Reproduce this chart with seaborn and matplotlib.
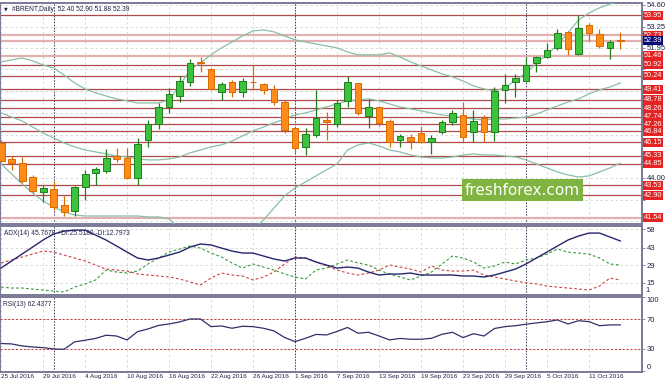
import numpy as np
import pandas as pd
import matplotlib.pyplot as plt
import matplotlib.transforms as mtransforms
from matplotlib.patches import Rectangle
import seaborn as sns

# daily bars, 25 Jul 2016 .. 14 Oct 2016 (60 trading days)
opens = [46.12, 45.12, 44.88, 44.02, 43.13, 43.28, 42.32, 41.95, 43.44, 44.26,
         44.40, 45.32, 45.18, 43.96, 46.30, 47.29, 48.31, 49.00, 49.84, 51.06,
         50.66, 49.27, 49.88, 49.23, 49.88, 49.72, 49.41, 48.62, 47.02, 45.86,
         46.61, 47.53, 47.29, 48.71, 49.78, 47.78, 48.35, 47.47, 46.30, 46.51,
         46.72, 46.20, 46.81, 47.43, 47.84, 46.81, 47.63, 46.81, 49.37, 49.88,
         49.92, 51.01, 51.37, 51.93, 52.94, 51.58, 53.36, 52.79, 51.96, 52.40]
highs = [46.30, 45.32, 45.24, 44.16, 43.55, 43.81, 42.87, 43.50, 44.46, 44.67,
         45.77, 45.80, 45.80, 46.41, 47.53, 48.55, 49.47, 50.23, 51.25, 51.41,
         50.72, 49.88, 49.98, 50.09, 50.90, 49.78, 49.70, 48.76, 47.12, 47.02,
         49.37, 48.04, 48.76, 50.23, 49.82, 48.80, 48.39, 47.57, 46.67, 46.67,
         47.18, 46.61, 47.53, 48.14, 48.65, 48.14, 47.84, 49.54, 50.35, 50.35,
         51.37, 51.45, 52.23, 53.09, 53.01, 53.97, 53.50, 53.11, 52.44, 52.90]
lows = [44.95, 44.47, 43.69, 43.04, 42.52, 42.01, 41.64, 41.64, 42.63, 43.55,
        44.26, 44.97, 43.93, 43.55, 45.89, 46.96, 47.98, 48.65, 49.62, 50.49,
        49.37, 48.76, 48.96, 48.96, 49.37, 49.12, 48.45, 46.75, 45.49, 45.38,
        46.51, 46.30, 47.12, 48.35, 47.84, 47.02, 47.18, 45.89, 45.86, 45.73,
        46.12, 45.43, 46.67, 47.22, 46.20, 46.20, 46.20, 46.26, 48.55, 48.96,
        49.88, 50.46, 51.31, 51.82, 51.52, 51.52, 52.39, 51.93, 51.25, 51.88]
closes = [45.02, 44.88, 43.79, 43.18, 43.34, 42.22, 41.91, 43.44, 44.22, 44.51,
          45.22, 45.12, 43.96, 46.06, 47.29, 48.35, 49.12, 49.92, 51.01, 51.03,
          49.41, 49.72, 49.27, 49.94, 49.85, 49.37, 48.65, 46.92, 45.80, 46.67,
          47.63, 47.39, 48.59, 49.84, 47.98, 48.35, 47.37, 46.20, 46.55, 46.26,
          46.16, 46.45, 47.43, 47.98, 46.47, 47.49, 46.81, 49.33, 49.68, 50.12,
          50.90, 51.37, 51.82, 52.88, 51.87, 53.15, 52.85, 52.07, 52.29, 52.39]

# bollinger bands
bb_upper = [51.09, 51.21, 51.33, 51.15, 50.90, 50.72, 50.29, 49.80, 49.43, 49.19,
            49.00, 48.82, 48.70, 48.57, 48.57, 48.57, 48.76, 49.62, 50.60, 51.03,
            51.52, 51.95, 52.31, 52.68, 52.99, 53.05, 52.93, 52.68, 52.44, 52.31,
            52.19, 52.07, 51.95, 51.70, 51.52, 51.52, 51.52, 51.64, 51.39, 51.09,
            50.84, 50.60, 50.35, 50.17, 49.92, 49.62, 49.43, 49.31, 49.49, 49.98,
            50.41, 51.03, 51.52, 52.13, 52.86, 53.66, 54.09, 54.40, 54.64, 54.83]
bb_mid = [47.96, 47.71, 47.47, 47.10, 46.73, 46.43, 46.12, 45.88, 45.69, 45.57,
          45.45, 45.32, 45.26, 45.14, 45.08, 45.08, 45.14, 45.26, 45.51, 45.69,
          45.88, 46.00, 46.24, 46.55, 46.86, 47.10, 47.35, 47.59, 47.84, 47.96,
          48.14, 48.33, 48.51, 48.70, 48.76, 48.82, 48.70, 48.51, 48.33, 48.21,
          48.08, 47.96, 47.84, 47.78, 47.65, 47.59, 47.53, 47.59, 47.59, 47.65,
          47.71, 47.90, 48.14, 48.39, 48.63, 48.82, 49.13, 49.37, 49.55, 49.80]
bb_lower = [44.83, 44.22, 43.61, 43.05, 42.56, 42.20, 41.89, 41.71, 41.64, 41.64,
            41.64, 41.64, 41.64, 41.64, 41.58, 41.58, 41.46, 40.91, 40.42, 40.36,
            40.23, 40.05, 40.17, 40.42, 40.79, 41.40, 42.13, 42.87, 43.36, 43.73,
            44.10, 44.47, 44.83, 45.69, 46.00, 46.12, 45.94, 45.69, 45.57, 45.38,
            45.26, 45.20, 45.20, 45.26, 45.38, 45.45, 45.38, 45.38, 45.32, 45.26,
            45.08, 44.83, 44.59, 44.34, 44.16, 44.03, 44.10, 44.34, 44.59, 44.89]

adx = [26.8, 32.5, 38.1, 43.7, 49.4, 54.2, 56.6, 57.4, 57.4, 53.4,
       49.4, 44.6, 39.7, 34.9, 33.3, 34.9, 37.3, 39.7, 43.7, 46.2,
       45.4, 42.9, 40.5, 38.9, 38.9, 36.5, 34.1, 32.5, 34.9, 34.9,
       31.7, 29.2, 26.8, 27.6, 26.8, 23.6, 21.2, 22.0, 22.0, 22.8,
       21.2, 21.2, 21.2, 21.2, 20.4, 20.4, 19.6, 21.2, 23.6, 26.0,
       30.1, 34.9, 39.7, 44.6, 49.4, 52.6, 55.0, 55.0, 51.8, 48.6]
plus_di = [11.5, 10.7, 10.7, 9.9, 9.1, 8.3, 7.5, 11.5, 14.0, 17.2,
           25.2, 23.6, 22.8, 24.4, 30.1, 34.9, 39.7, 42.1, 44.6, 42.9,
           38.9, 35.7, 30.9, 26.8, 30.1, 27.6, 25.2, 22.0, 19.6, 18.0,
           25.2, 26.8, 30.1, 33.3, 30.9, 29.2, 25.2, 22.0, 19.6, 17.2,
           20.4, 23.6, 30.1, 36.5, 34.9, 31.7, 26.8, 28.5, 31.7, 30.1,
           33.3, 34.9, 38.1, 42.1, 39.7, 38.9, 38.1, 34.9, 30.1, 29.2]
minus_di = [30.9, 33.3, 35.7, 38.1, 40.5, 39.7, 37.3, 34.9, 32.5, 29.3,
            26.0, 25.2, 24.4, 22.0, 21.2, 20.4, 19.6, 18.0, 15.6, 13.2,
            18.8, 22.8, 21.2, 20.4, 17.2, 19.6, 23.6, 30.1, 35.7, 34.9,
            31.7, 28.5, 25.2, 22.8, 21.2, 22.8, 25.2, 29.3, 27.6, 26.0,
            23.6, 28.5, 25.2, 24.4, 24.4, 25.2, 21.2, 19.6, 18.0, 16.4,
            14.8, 14.0, 12.3, 11.5, 10.7, 9.9, 9.1, 12.3, 18.8, 17.2]
rsi = [37.4, 36.8, 34.1, 32.7, 31.8, 30.0, 29.6, 39.5, 41.8, 44.2,
       48.5, 47.5, 42.2, 53.3, 57.0, 61.7, 63.7, 66.4, 70.4, 70.4,
       60.1, 61.0, 57.9, 60.6, 60.1, 57.9, 54.3, 45.5, 39.9, 44.4,
       49.6, 48.9, 53.6, 59.0, 51.2, 52.5, 47.5, 42.2, 44.2, 43.1,
       43.1, 44.4, 49.8, 52.5, 45.3, 50.6, 47.5, 57.6, 60.1, 61.3,
       63.4, 65.1, 66.7, 69.1, 63.7, 68.1, 66.8, 61.4, 62.4, 62.44]

date_labels = ["25 Jul 2016", "29 Jul 2016", "4 Aug 2016", "10 Aug 2016", "16 Aug 2016",
               "22 Aug 2016", "26 Aug 2016", "1 Sep 2016", "7 Sep 2016", "13 Sep 2016",
               "19 Sep 2016", "23 Sep 2016", "29 Sep 2016", "5 Oct 2016", "11 Oct 2016"]
month_starts = [5, 28, 50]  # bar index of 1 Aug, 1 Sep, 3 Oct

levels_dark = [53.95, 50.92, 50.24, 49.41, 48.78, 48.26, 47.74, 47.26, 46.84,
               46.15, 45.33, 44.85, 43.53, 42.90]
levels_pale = [52.73, 51.46, 41.54]
last_price = 52.39
price_ticks = [54.60, 53.25, 51.95, 50.65, 49.30, 47.98, 46.63, 45.30, 44.00, 42.65, 41.34]
shown_ticks = [54.60, 53.25, 51.95, 44.00]  # the rest sit under the level boxes

GREEN, GREEN_E = "#3cc23c", "#1f7d1f"
ORANGE, ORANGE_E = "#ff8c1a", "#d96c00"
BAND = "#88bfa5"
NAVY = "#26266e"
GRID = "#d4d4d4"
FRAME = "#7a7a98"
TXT = "#22224a"

sns.set_style("white")
plt.rcParams['font.family'] = ['Liberation Sans', 'DejaVu Sans']

W, H = 670, 381
fig = plt.figure(figsize=(W / 100, H / 100), dpi=100)

def panel(top, bottom):
    return fig.add_axes([0, 1 - bottom / H, 642 / W, (bottom - top) / H])

ax1 = panel(3, 224)
ax2 = panel(226, 295)
ax3 = panel(297, 372)

x = np.arange(len(opens))
bars = pd.DataFrame({"x": x, "open": opens, "high": highs, "low": lows, "close": closes})

for ax in (ax1, ax2, ax3):
    ax.set_xlim(-0.1, 61.05)
    for s in ax.spines.values():
        s.set_color(FRAME)
        s.set_linewidth(1.4)
    ax.yaxis.tick_right()
    ax.tick_params(axis="y", length=2, width=0.6, pad=1.5, labelsize=5.5,
                   colors=FRAME, labelcolor=TXT)
    ax.tick_params(axis="x", length=0)
    ax.set_xticks(range(0, 60, 4))
    ax.grid(True, color=GRID, linewidth=0.6, linestyle=(0, (3, 3)))
    ax.set_axisbelow(True)
    for m in month_starts:
        ax.axvline(m, color="#3a3a5a", linewidth=0.7, linestyle=(0, (1.5, 1.5)), zorder=2)

# ---- main price panel
ax1.set_ylim(41.15, 54.70)
ax1.set_yticks(price_ticks)
ax1.set_yticklabels([f"{v:.2f}" if v in shown_ticks else "" for v in price_ticks])
ax1.set_xticklabels([])

for lv in levels_dark:
    ax1.axhline(lv, color="#b04848", linewidth=0.9, zorder=2)
for lv in levels_pale + [last_price]:
    ax1.axhline(lv, color="#e3b0b0", linewidth=1.6, zorder=2)

for band in (bb_upper, bb_mid, bb_lower):
    sns.lineplot(x=x, y=band, ax=ax1, color=BAND, linewidth=0.9, zorder=3)
ax1.set_xlabel("")
ax1.set_ylabel("")

up = bars["close"] >= bars["open"]
for sub, fc, ec in ((bars[up], GREEN, GREEN_E), (bars[~up], ORANGE, ORANGE_E)):
    ax1.vlines(sub["x"], sub["low"], sub["high"], color=ec, linewidth=0.9, zorder=4)
    body = (sub["close"] - sub["open"]).abs().clip(lower=0.012)
    ax1.bar(sub["x"], body, bottom=sub[["open", "close"]].min(axis=1), width=0.66,
            color=fc, edgecolor=ec, linewidth=0.7, zorder=5)

trans = mtransforms.blended_transform_factory(ax1.transAxes, ax1.transData)
for lv in levels_dark + levels_pale:
    ax1.text(1.003, lv, f"{lv:.2f}", transform=trans, ha="left", va="center",
             fontsize=5.3, color="white", clip_on=False, zorder=10,
             bbox=dict(boxstyle="square,pad=0.12", fc="#e62222", ec="none"))
ax1.text(1.003, last_price, f"{last_price:.2f}", transform=trans, ha="left", va="center",
         fontsize=5.3, color="white", clip_on=False, zorder=10,
         bbox=dict(boxstyle="square,pad=0.12", fc="#0a0a78", ec="none"))

ax1.text(0.006, 0.972, "\u25BC", transform=ax1.transAxes, fontsize=3.5, color=TXT,
         va="center", family="DejaVu Sans")
ax1.text(0.018, 0.972, "#BRENT,Daily  52.40 52.90 51.88 52.39", transform=ax1.transAxes,
         fontsize=4.8, color=TXT, va="center")

# ---- ADX panel
sns.lineplot(x=x, y=adx, ax=ax2, color=NAVY, linewidth=1.0, zorder=4)
sns.lineplot(x=x, y=plus_di, ax=ax2, color="#3a9a3a", linewidth=0.8,
             linestyle=(0, (2.5, 2)), zorder=3)
sns.lineplot(x=x, y=minus_di, ax=ax2, color="#cc4444", linewidth=0.8,
             linestyle=(0, (2.5, 2)), zorder=3)
ax2.set_ylim(5.1, 60.7)
ax2.set_yticks([58, 43, 29, 15])
ax2.set_yticklabels(["58", "43", "29", "15"])
ax2.set_xticklabels([])
ax2.set_xlabel("")
ax2.set_ylabel("")
ax2.text(1.006, 0.065, "1", transform=ax2.transAxes, fontsize=5.5, color=TXT, va="center")
ax2.text(0.006, 0.89, "ADX(14) 45.7678 +DI:25.5180 -DI:12.7973", transform=ax2.transAxes,
         fontsize=4.8, color=TXT, va="center")

# ---- RSI panel
sns.lineplot(x=x, y=rsi, ax=ax3, color="#30306a", linewidth=0.9, zorder=4)
for lv in (70, 30):
    ax3.axhline(lv, color="#c83434", linewidth=0.7, linestyle=(0, (2, 2)), zorder=3)
ax3.set_ylim(-1, 100)
ax3.set_yticks([100, 70, 30, 0])
ax3.set_yticklabels(["100", "70", "30", "0"])
labs = ax3.get_yticklabels()
labs[0].set_va("top")
labs[3].set_va("bottom")
ax3.set_xticklabels(date_labels, ha="left")
ax3.tick_params(axis="x", labelsize=4.6, labelcolor=TXT, pad=1.5)
ax3.set_xlabel("")
ax3.set_ylabel("")
ax3.text(0.005, 0.9, "RSI(13) 62.4377", transform=ax3.transAxes,
         fontsize=4.8, color=TXT, va="center")

# watermark
fig.add_artist(Rectangle((462 / W, 1 - 201 / H), 121 / W, 22 / H,
                         transform=fig.transFigure, facecolor="#80b440", edgecolor="none", zorder=20))
fig.text(522.5 / W, 1 - 190 / H, "freshforex.com", ha="center", va="center",
         fontsize=11, color="white", zorder=21, family="DejaVu Sans")

fig.savefig("out.png", dpi=100)
